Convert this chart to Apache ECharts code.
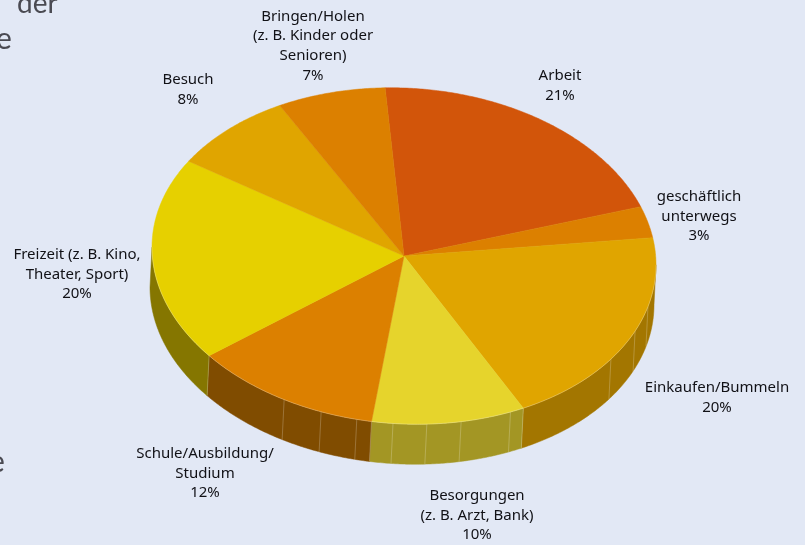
<!DOCTYPE html>
<html>
<head>
<meta charset="utf-8">
<style>html,body{margin:0;padding:0;background:#e2e8f5;overflow:hidden}#c{width:805px;height:545px}</style>
<script src="https://cdn.jsdelivr.net/npm/echarts@6/dist/echarts.min.js"></script>
</head>
<body>
<div id="c"></div>
<script>
// Data
const categories = ['Arbeit','geschäftlich\nunterwegs','Einkaufen/Bummeln','Besorgungen\n(z. B. Arzt, Bank)','Schule/Ausbildung/\nStudium','Freizeit (z. B. Kino,\nTheater, Sport)','Besuch','Bringen/Holen\n(z. B. Kinder oder\nSenioren)'];
const printedPercent = [21,3,20,10,12,20,8,7];
const sliceShare = [20.6,3.0,19.7,9.9,12.0,19.6,8.1,7.0];

// Styling
const topColors = ['#d2550a','#dc8000','#e0a500','#e6d42c','#dc8000','#e6d000','#e0a500','#dc8000'];
const wallColors = ['#8a3a05','#8a5200','#a37600','#a39624','#804c00','#857600','#a37600','#8a5200'];

// Layout
const PIE = {cx:404, cy:256, rx:252, ry:168, depth:40, depthX:-2, tilt:0.035, startDeg:94.3};
const seamDegrees = [-14.5,-23.5,-34.8,-65,-76.9,-84.8,-92.5,-100.8,-109.2,-118.4];
const labelCenters = [[560,86],[699,216.5],[717,397.5],[477,515.5],[205,473.5],[77,274.5],[188,89.5],[313,46]];

const total = sliceShare.reduce((a,b)=>a+b,0);
const edges = [PIE.startDeg];
sliceShare.forEach(v=>edges.push(edges[edges.length-1]-v/total*360));

function rim(deg,lower){
  const t=deg*Math.PI/180, dx=PIE.rx*Math.cos(t);
  return [PIE.cx+dx+(lower?PIE.depthX:0), PIE.cy-PIE.ry*Math.sin(t)+PIE.tilt*dx+(lower?PIE.depth:0)];
}
function arcPts(a,b,lower){
  const pts=[],n=Math.max(2,Math.ceil(Math.abs(a-b)*2));
  for(let i=0;i<=n;i++)pts.push(rim(a+(b-a)*i/n,lower));
  return pts;
}
function seam(d){
  const p=rim(d,false),q=rim(d,true);
  return {type:'line',shape:{x1:p[0],y1:p[1],x2:q[0],y2:q[1]},style:{stroke:'rgba(255,255,255,0.22)',lineWidth:1},z2:2};
}
function renderSlice(params){
  const i=params.dataIndex, a=edges[i], b=edges[i+1], kids=[];
  // only the lower half of the ellipse shows a wall
  const s=Math.min(a,0), e=Math.max(b,-180);
  if(s>e){
    kids.push({type:'polygon',shape:{points:arcPts(s,e,false).concat(arcPts(e,s,true))},
      style:{fill:wallColors[i],stroke:wallColors[i],lineWidth:0.5},z2:1});
    seamDegrees.filter(d=>d<s&&d>e).forEach(d=>kids.push(seam(d)));
    if(e===b) kids.push(seam(e));
    kids.push({type:'polyline',shape:{points:arcPts(s,e,false)},
      style:{fill:'none',stroke:'rgba(255,255,255,0.3)',lineWidth:0.8},z2:4});
  }
  kids.push({type:'polygon',shape:{points:[[PIE.cx,PIE.cy]].concat(arcPts(a,b,false))},
    style:{fill:topColors[i],stroke:topColors[i],lineWidth:0.5},z2:3});
  kids.push({type:'text',x:labelCenters[i][0],y:labelCenters[i][1],
    style:{text:categories[i]+'\n'+printedPercent[i]+'%',align:'center',verticalAlign:'middle',
      font:'15px "Noto Sans"',lineHeight:19.6,fill:'#111116'},z2:5});
  return {type:'group',children:kids};
}
const cut=(text,x,y,size)=>({type:'text',x:x,y:y,silent:true,style:{text:text,font:size+'px "Lato"',fill:'#4a4a52'}});
const chart=echarts.init(document.getElementById('c'),null,{renderer:'canvas'});
chart.setOption({
  animation:false,
  backgroundColor:'#e2e8f5',
  graphic:[cut('e',-14,-10,28),cut('der',17,-10,28),cut('e',-4,24,30),cut('e',-11,447,30)],
  series:[{type:'custom',coordinateSystem:'none',silent:true,data:sliceShare,renderItem:renderSlice,clip:false}]
});
</script>
</body>
</html>
